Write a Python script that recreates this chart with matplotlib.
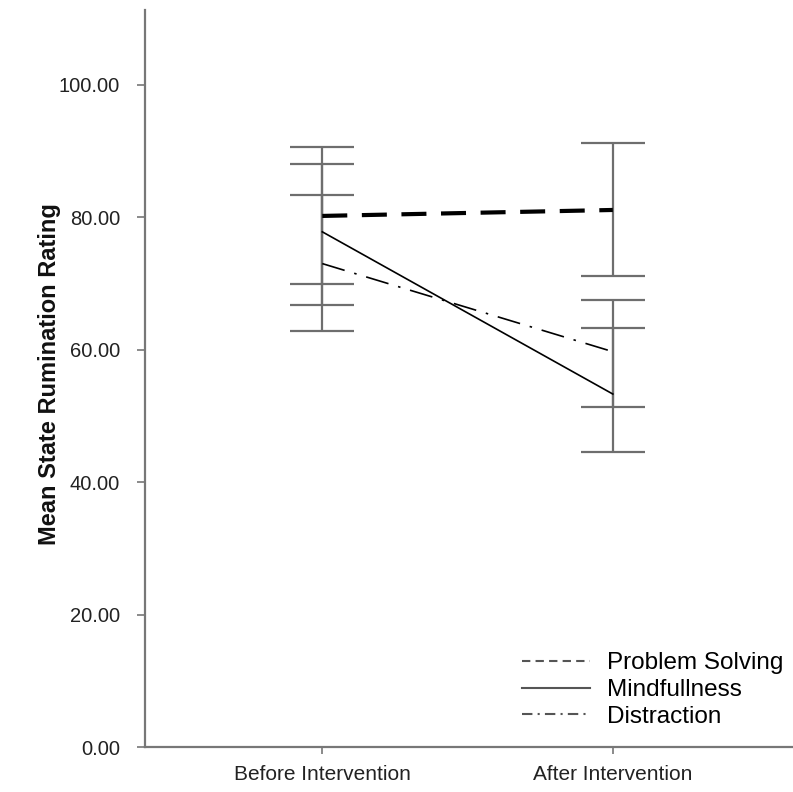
import matplotlib.pyplot as plt
from matplotlib.lines import Line2D

plt.rcParams['font.family'] = ['Liberation Sans', 'DejaVu Sans']

# Données
temps = ['Before Intervention', 'After Intervention']
groupes = ['Problem Solving', 'Mindfullness', 'Distraction']

moy_problem = [80.2, 81.1]
moy_mindful = [77.8, 53.3]
moy_distract = [73.0, 59.7]

# bornes des barres d'erreur (bas, haut)
bas_problem = [69.9, 71.1]
haut_problem = [90.6, 91.2]
bas_mindful = [66.7, 44.5]
haut_mindful = [88.1, 63.3]
bas_distract = [62.8, 51.3]
haut_distract = [83.4, 67.5]

yticks = [0, 20, 40, 60, 80, 100]

fig = plt.figure(figsize=(7.93, 7.92), dpi=100)
ax = fig.add_axes([0.1829, 0.0568, 0.8171, 0.9306])

x = [0, 1]
gris = '#6e6e6e'

series = [
    (moy_problem, bas_problem, haut_problem),
    (moy_mindful, bas_mindful, haut_mindful),
    (moy_distract, bas_distract, haut_distract),
]
for moy, bas, haut in series:
    err = [[m - b for m, b in zip(moy, bas)], [h - m for m, h in zip(moy, haut)]]
    ax.errorbar(x, moy, yerr=err, fmt='none', ecolor=gris, elinewidth=1.6,
                capsize=22.8, capthick=1.6, zorder=1)

# Courbes
ax.plot(x, moy_problem, color='black', lw=3.0, dashes=(6, 3.5), zorder=3)
ax.plot(x, moy_mindful, color='black', lw=1.2, zorder=3)
ax.plot(x, moy_distract, color='black', lw=1.2, dashes=(14, 6, 1.5, 6), zorder=3)

ax.set_xlim(-0.61, 1.62)
ax.set_ylim(0, 111.3)
ax.set_xticks(x)
ax.set_xticklabels(temps, fontsize=15, color='#222222')
ax.set_yticks(yticks)
ax.set_yticklabels(['%.2f' % v for v in yticks], fontsize=14.5, color='#222222')

for s in ['top', 'right']:
    ax.spines[s].set_visible(False)
for s in ['left', 'bottom']:
    ax.spines[s].set_color('#777777')
    ax.spines[s].set_linewidth(1.6)
ax.tick_params(axis='y', length=6, width=1.2, color='#777777', pad=12)
ax.tick_params(axis='x', length=5, width=1.2, color='#777777', pad=8)

fig.text(50 / 793, 1 - 374 / 792, 'Mean State Rumination Rating',
         rotation=90, ha='center', va='center', fontsize=17,
         fontweight='bold', color='#111111')

# Légende
poignees = [
    Line2D([], [], color='#555555', lw=1.5, dashes=(4, 2.5)),
    Line2D([], [], color='#555555', lw=1.5),
    Line2D([], [], color='#555555', lw=1.5, dashes=(5, 2.5, 1, 2.5)),
]
fig.legend(poignees, groupes, loc='center left',
           bbox_to_anchor=(522 / 793, 1 - 690 / 792),
           frameon=False, fontsize=17.5, handlelength=2.8, handletextpad=0.7,
           labelspacing=0.2, borderpad=0, borderaxespad=0)

fig.savefig('out.png', dpi=100)
